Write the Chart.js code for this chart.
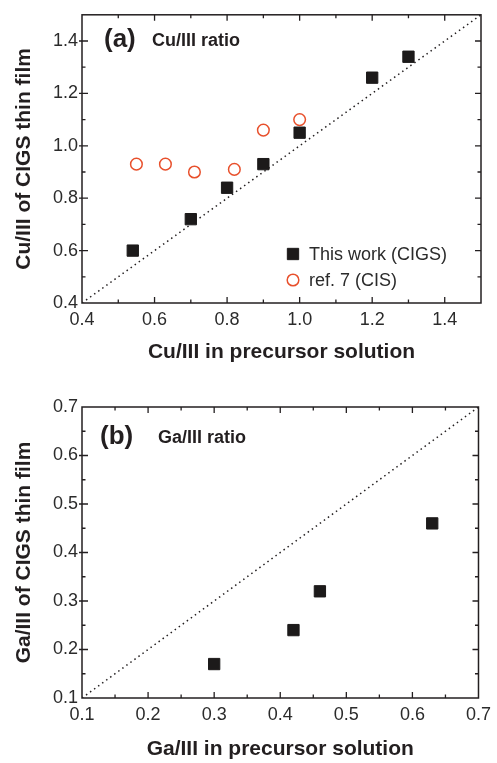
<!DOCTYPE html>
<html>
<head>
<meta charset="utf-8">
<script src="https://cdn.jsdelivr.net/npm/chart.js@4"></script>
<style>
html, body { margin: 0; padding: 0; background: #fff; }
#wrapA { position: absolute; left: 0; top: 0; width: 497px; height: 380px; }
#wrapB { position: absolute; left: 0; top: 380px; width: 497px; height: 383px; }
</style>
</head>
<body>
<div id="wrapA"><canvas id="chartA" width="497" height="380"></canvas></div>
<div id="wrapB"><canvas id="chartB" width="497" height="383"></canvas></div>
<script>
// panel (a): Cu/III ratio
const cuPrecursor = [0.54, 0.70, 0.80, 0.90, 1.00, 1.20, 1.30];
const cuFilm = [0.60, 0.72, 0.84, 0.93, 1.05, 1.26, 1.34];
const refPrecursor = [0.55, 0.63, 0.71, 0.82, 0.90, 1.00];
const refFilm = [0.93, 0.93, 0.90, 0.91, 1.06, 1.10];
const cuTicks = [0.4, 0.6, 0.8, 1.0, 1.2, 1.4];
const cuRange = [0.4, 1.5];

// panel (b): Ga/III ratio
const gaPrecursor = [0.30, 0.42, 0.46, 0.63];
const gaFilm = [0.17, 0.24, 0.32, 0.46];
const gaTicks = [0.1, 0.2, 0.3, 0.4, 0.5, 0.6, 0.7];
const gaRange = [0.1, 0.7];

const ink = '#231f20';
const red = '#e8502c';
Chart.defaults.font.family = "'Liberation Sans', Arial, sans-serif";
Chart.defaults.color = '#2b2b2b';

const toPts = (xs, ys) => xs.map((x, i) => ({ x: x, y: ys[i] }));

// frame, inward ticks, labels and legend
const framePlugin = {
  id: 'frame',
  afterDraw(chart, args, opts) {
    const ctx = chart.ctx;
    const a = chart.chartArea;
    const sx = chart.scales.x, sy = chart.scales.y;
    ctx.save();
    ctx.strokeStyle = ink;
    ctx.lineWidth = 1.5;
    ctx.strokeRect(a.left, a.top, a.right - a.left, a.bottom - a.top);

    const majors = opts.ticks;
    const minors = [];
    for (let i = 0; i < majors.length; i++) {
      minors.push(i + 1 < majors.length ? (majors[i] + majors[i + 1]) / 2 : majors[i] + (majors[1] - majors[0]) / 2);
    }
    ctx.lineWidth = 1.3;
    ctx.beginPath();
    const tick = (v, len, major) => {
      const px = sx.getPixelForValue(v);
      if (px > a.left + 1 && px < a.right - 1) {
        ctx.moveTo(px, a.bottom); ctx.lineTo(px, a.bottom - len);
        ctx.moveTo(px, a.top); ctx.lineTo(px, a.top + len);
      }
      const py = sy.getPixelForValue(v);
      if (py > a.top + 1 && py < a.bottom - 1) {
        ctx.moveTo(a.left - (major ? 3 : 0), py); ctx.lineTo(a.left + len, py);
        ctx.moveTo(a.right, py); ctx.lineTo(a.right - len, py);
      }
    };
    majors.forEach(v => tick(v, 6, true));
    minors.forEach(v => tick(v, 3.5, false));
    ctx.stroke();

    // panel tag and caption
    ctx.fillStyle = ink;
    ctx.textBaseline = 'middle';
    ctx.textAlign = 'left';
    ctx.font = "bold 26px 'Liberation Sans', Arial, sans-serif";
    ctx.fillText(opts.tag, opts.tagX, opts.tagY);
    ctx.font = "bold 18px 'Liberation Sans', Arial, sans-serif";
    ctx.fillText(opts.caption, opts.captionX, opts.tagY + 1);

    // legend
    if (opts.legend) {
      ctx.font = "18px 'Liberation Sans', Arial, sans-serif";
      opts.legend.forEach((item, i) => {
        const ds = chart.data.datasets[item.dataset];
        const y = opts.legendY + i * 26;
        ctx.strokeStyle = ds.borderColor;
        ctx.lineWidth = ds.borderWidth;
        ctx.beginPath();
        if (ds.pointStyle === 'circle') {
          ctx.arc(opts.legendX, y, ds.pointRadius, 0, Math.PI * 2);
        } else {
          const s = ds.pointRadius * Math.SQRT1_2;
          ctx.rect(opts.legendX - s, y - s, 2 * s, 2 * s);
        }
        if (ds.backgroundColor !== 'transparent') {
          ctx.fillStyle = ds.backgroundColor;
          ctx.fill();
        }
        ctx.stroke();
        ctx.fillStyle = '#2b2b2b';
        ctx.fillText(ds.label, opts.legendX + 16, y + 1);
      });
    }
    ctx.restore();
  }
};

function makeScale(range, ticks, title, isX, titlePad, size) {
  return {
    type: 'linear',
    min: range[0],
    max: range[1],
    grid: { display: false, drawTicks: false },
    border: { display: false },
    afterBuildTicks: s => { s.ticks = ticks.map(v => ({ value: v })); },
    afterFit: s => { if (isX) s.height = size; else s.width = size; },
    ticks: {
      font: { size: 18 },
      color: '#2b2b2b',
      padding: isX ? 6 : 4,
      callback: v => Number(v).toFixed(1)
    },
    title: {
      display: true,
      text: title,
      color: ink,
      font: { size: 21, weight: 'bold' },
      padding: { top: titlePad, bottom: titlePad }
    }
  };
}

function diagonal(range) {
  return {
    type: 'line',
    label: 'y = x',
    data: [{ x: range[0], y: range[0] }, { x: range[1], y: range[1] }],
    borderColor: ink,
    borderWidth: 1.5,
    borderDash: [1.5, 3.5],
    pointRadius: 0,
    fill: false
  };
}

const squareStyle = {
  pointStyle: 'rect',
  pointRadius: 8,
  borderWidth: 1,
  backgroundColor: '#1c1a1a',
  borderColor: '#1c1a1a'
};

new Chart(document.getElementById('chartA'), {
  type: 'scatter',
  data: {
    datasets: [
      Object.assign({ label: 'This work (CIGS)', data: toPts(cuPrecursor, cuFilm) }, squareStyle),
      {
        label: 'ref. 7 (CIS)',
        data: toPts(refPrecursor, refFilm),
        pointStyle: 'circle',
        pointRadius: 5.8,
        borderWidth: 1.5,
        backgroundColor: 'transparent',
        borderColor: red
      },
      diagonal(cuRange)
    ]
  },
  options: {
    responsive: false,
    animation: false,
    layout: { padding: { top: 9, right: 16, left: 0, bottom: 0 } },
    scales: {
      x: makeScale(cuRange, cuTicks, 'Cu/III in precursor solution', true, 15, 77),
      y: makeScale(cuRange, cuTicks, 'Cu/III of CIGS thin film', false, 12, 82)
    },
    plugins: {
      legend: { display: false },
      tooltip: { enabled: false },
      frame: {
        ticks: cuTicks,
        tag: '(a)', tagX: 104, tagY: 40,
        caption: 'Cu/III ratio', captionX: 152,
        legend: [{ dataset: 0 }, { dataset: 1 }],
        legendX: 293, legendY: 254
      }
    }
  },
  plugins: [framePlugin]
});

new Chart(document.getElementById('chartB'), {
  type: 'scatter',
  data: {
    datasets: [
      Object.assign({ label: 'This work (CIGS)', data: toPts(gaPrecursor, gaFilm) }, squareStyle),
      diagonal(gaRange)
    ]
  },
  options: {
    responsive: false,
    animation: false,
    layout: { padding: { top: 27, right: 17, left: 0, bottom: 0 } },
    scales: {
      x: makeScale(gaRange, gaTicks, 'Ga/III in precursor solution', true, 1, 65),
      y: makeScale(gaRange, gaTicks, 'Ga/III of CIGS thin film', false, 12, 82)
    },
    plugins: {
      legend: { display: false },
      tooltip: { enabled: false },
      frame: {
        ticks: gaTicks,
        tag: '(b)', tagX: 100, tagY: 57,
        caption: 'Ga/III ratio', captionX: 158
      }
    }
  },
  plugins: [framePlugin]
});
</script>
</body>
</html>
